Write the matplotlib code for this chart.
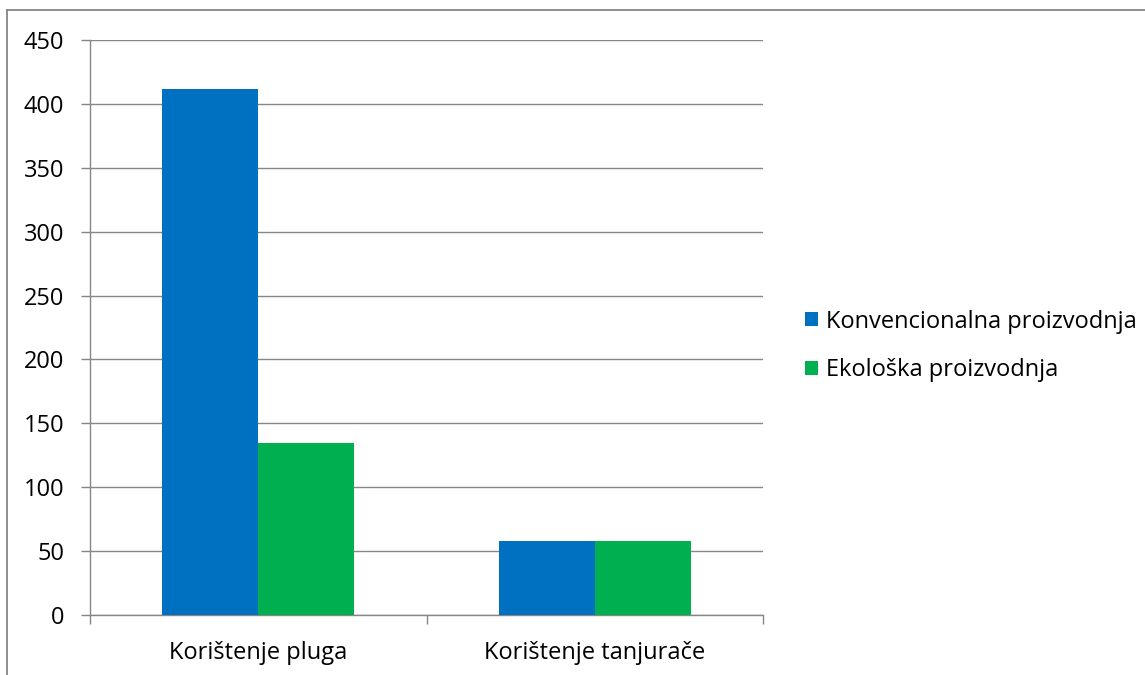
import matplotlib
matplotlib.use("Agg")
import matplotlib.pyplot as plt
from matplotlib.lines import Line2D
import numpy as np

categories = ["Korištenje pluga", "Korištenje tanjurače"]
series_names = ["Konvencionalna proizvodnja", "Ekološka proizvodnja"]
konvencionalna = [412, 58]
ekoloska = [135, 58]
yticks = [0, 50, 100, 150, 200, 250, 300, 350, 400, 450]

colors = ["#0070C0", "#00B050"]
grid_color = "#868686"
fs = 17

plt.rcParams['font.family'] = ['Open Sans', 'DejaVu Sans']

fig = plt.figure(figsize=(11.45, 6.75), dpi=100)
W, H = 1145, 675
ax = fig.add_axes([90 / W, 1 - 615 / H, (763 - 90) / W, (615 - 40) / H])

x = np.arange(len(categories))
bw = 0.285
b1 = ax.bar(x - bw / 2, konvencionalna, bw, color=colors[0], label=series_names[0], zorder=3)
b2 = ax.bar(x + bw / 2, ekoloska, bw, color=colors[1], label=series_names[1], zorder=3)

ax.set_xlim(-0.5, 1.5)
ax.set_ylim(0, 450)
ax.set_yticks(yticks)
ax.set_yticklabels([str(v) for v in yticks], fontsize=fs)
ax.yaxis.grid(True, color=grid_color, linewidth=1, zorder=0)
ax.set_axisbelow(True)

ax.set_xticks(x)
ax.set_xticklabels(categories, fontsize=fs)
ax.tick_params(axis='x', length=0, pad=19)
ax.set_xticks([-0.5, 0.5, 1.5], minor=True)
ax.tick_params(axis='x', which='minor', length=6.5, color=grid_color, width=1)
ax.tick_params(axis='y', length=6.5, color=grid_color, width=1, pad=12)

for s in ['top', 'right']:
    ax.spines[s].set_visible(False)
for s in ['left', 'bottom']:
    ax.spines[s].set_color(grid_color)
    ax.spines[s].set_linewidth(1)

leg = fig.legend(handles=[b1, b2], labels=series_names, loc='center left',
                 bbox_to_anchor=(805 / W, 1 - 346 / H), frameon=False,
                 borderpad=0, borderaxespad=0,
                 fontsize=fs, handlelength=0.55, handleheight=0.55,
                 handletextpad=0.34, labelspacing=1.04)

fig.add_artist(Line2D([6.5 / W, 6.5 / W], [0, 1 - 9.5 / H], transform=fig.transFigure,
                      color=grid_color, linewidth=1.3))
fig.add_artist(Line2D([6.5 / W, 1], [1 - 9.5 / H, 1 - 9.5 / H], transform=fig.transFigure,
                      color=grid_color, linewidth=1.3))

fig.savefig("out.png", dpi=100)
